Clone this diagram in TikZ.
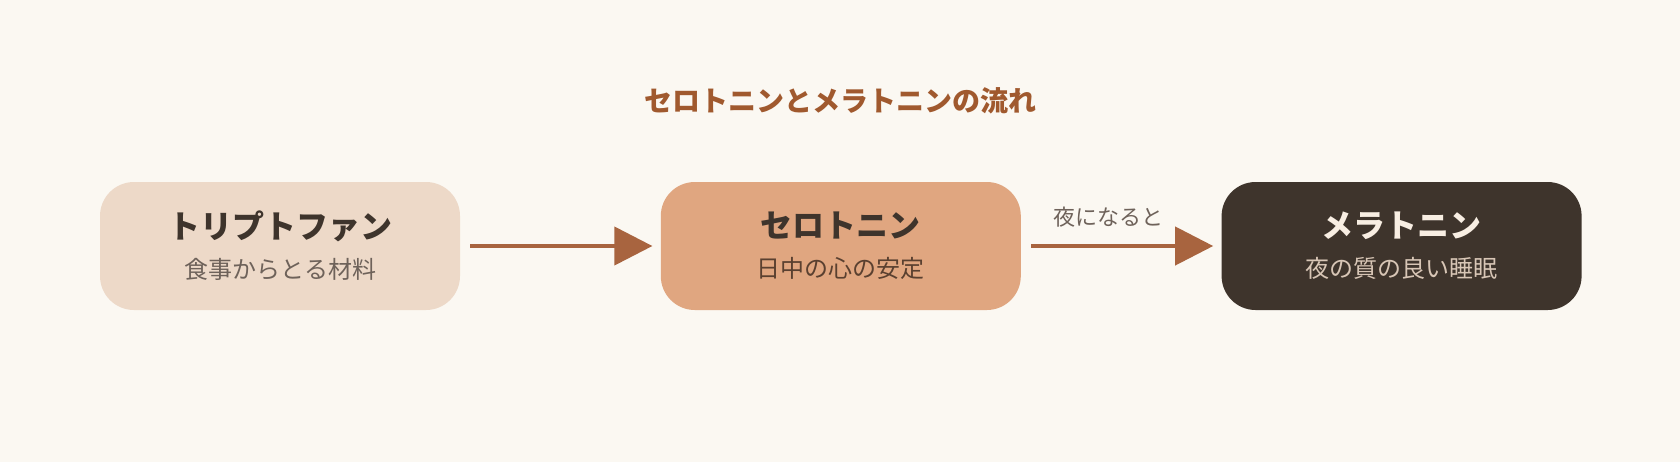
\documentclass[tikz,border=0pt]{standalone}
\usepackage{fontspec}
\setmainfont{Noto Sans CJK JP}
\usepackage{xcolor}
\usetikzlibrary{positioning, arrows.meta}

\definecolor{paper}{HTML}{FBF8F2}
\definecolor{sandfill}{HTML}{EDD9C8}
\definecolor{peachfill}{HTML}{E0A680}
\definecolor{cocoafill}{HTML}{3E342C}
\definecolor{rust}{HTML}{A8643F}
\definecolor{headrust}{HTML}{A0592E}
\definecolor{inkdark}{HTML}{3E342C}
\definecolor{inkgrey}{HTML}{6E625A}
\definecolor{inkbrown}{HTML}{5A4030}
\definecolor{inklight}{HTML}{F8EEE3}
\definecolor{inkpale}{HTML}{D8C6B6}

\begin{document}
\begin{tikzpicture}[
        x=0.5pt, y=-0.5pt,
        node distance=100pt,
        stage/.style={rectangle, rounded corners=17pt, inner sep=0pt, minimum width=180pt, minimum height=64pt, align=center},
        tryp/.style={stage, fill=sandfill},
        sero/.style={stage, fill=peachfill},
        mela/.style={stage, fill=cocoafill},
        edge/.style={-{Triangle[length=19pt, width=19pt]}, line width=2pt, rust, shorten <=5pt, shorten >=4pt}
    ]
        % Canvas
        \fill[paper] (0,0) rectangle (1680,462);
        \useasboundingbox (0,0) rectangle (1680,462);
        % Title
        \node[font=\bfseries\fontsize{14pt}{16pt}\selectfont, text=headrust] (title) at (840,101) {セロトニンとメラトニンの流れ};
        % Stages
        \node[tryp] (tryp) at (280,246) {{\bfseries\fontsize{16pt}{19pt}\selectfont\color{inkdark}トリプトファン}\\[8pt]{\fontsize{12pt}{14pt}\selectfont\color{inkgrey}食事からとる材料}};
        \node[sero, right=of tryp] (sero) {{\bfseries\fontsize{16pt}{19pt}\selectfont\color{inkdark}セロトニン}\\[8pt]{\fontsize{12pt}{14pt}\selectfont\color{inkbrown}日中の心の安定}};
        \node[mela, right=of sero] (mela) {{\bfseries\fontsize{16pt}{19pt}\selectfont\color{inklight}メラトニン}\\[8pt]{\fontsize{12pt}{14pt}\selectfont\color{inkpale}夜の質の良い睡眠}};
        % Edges
        \draw[edge] (tryp) -- (sero);
        \draw[edge] (sero) -- node[above=5pt, xshift=-6.5pt, font=\fontsize{11pt}{13pt}\selectfont, text=inkgrey] (night) {夜になると} (mela);
    \end{tikzpicture}
\end{document}
